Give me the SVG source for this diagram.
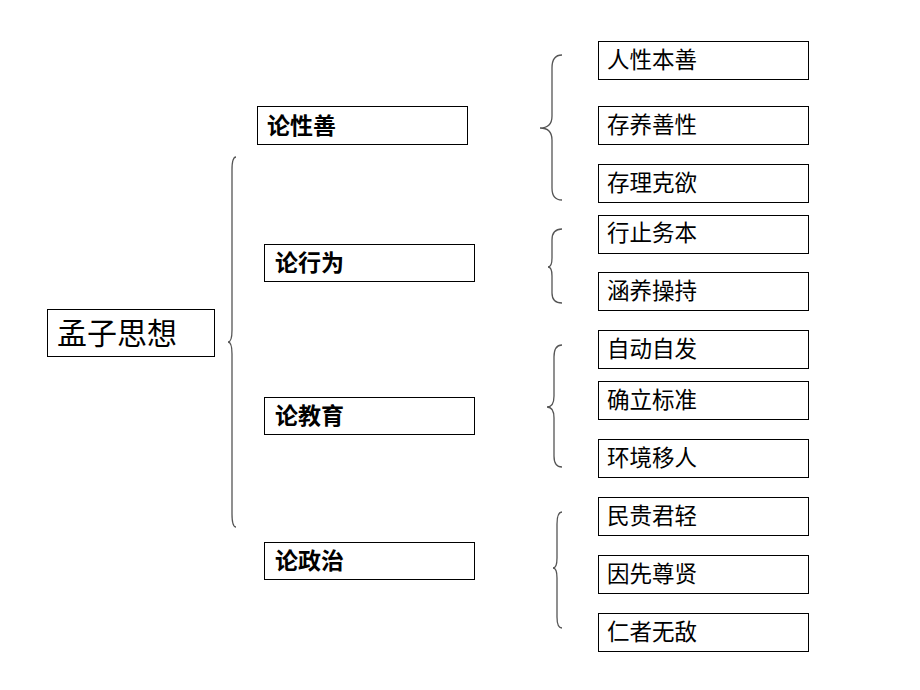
<svg xmlns="http://www.w3.org/2000/svg" width="920" height="690" viewBox="0 0 920 690">
<style>
.box{fill:#fff;stroke:#000;stroke-width:1}
.t{font-family:"Noto Sans CJK SC","Noto Sans",sans-serif;fill:#000}
.t3{font-size:22.5px}
.t2{font-size:23px;font-weight:bold}
.t1{font-size:30px}
.br{fill:none;stroke:#555;stroke-width:1.3}
</style>
<rect width="920" height="690" fill="#fff"/>
<g id="connectors">
<path class="br" d="M236 157 Q232 157 232 170 L232 330 Q232 342 228 342 Q232 342 232 354 L232 514 Q232 527 236 527"/>
<path class="br" d="M562 55 Q552 55 552 68 L552 116 Q552 128 540 128 Q552 128 552 140 L552 188 Q552 200 562 200"/>
<path class="br" d="M562 229 Q552 229 552 240 L552 258 Q552 267 548 267 Q552 267 552 276 L552 293 Q552 303 562 303"/>
<path class="br" d="M562 345 Q554 345 554 357 L554 396 Q554 407 547 407 Q554 407 554 418 L554 456 Q554 467 562 467"/>
<path class="br" d="M562 512 Q557 512 557 524 L557 558 Q557 568 553 568 Q557 568 557 578 L557 617 Q557 628 562 628"/>
</g>
<g id="root"><rect class="box" x="47.5" y="309.5" width="167" height="47"/><text class="t t1" x="57" y="344">孟子思想</text></g>
<g id="n-xingshan"><rect class="box" x="257.5" y="106.5" width="210" height="38"/><text class="t t2" x="267" y="134">论性善</text></g>
<g id="n-xingwei"><rect class="box" x="264.5" y="244.5" width="210" height="37"/><text class="t t2" x="275" y="271">论行为</text></g>
<g id="n-jiaoyu"><rect class="box" x="264.5" y="397.5" width="210" height="37"/><text class="t t2" x="275" y="424">论教育</text></g>
<g id="n-zhengzhi"><rect class="box" x="264.5" y="542.5" width="210" height="37"/><text class="t t2" x="275" y="569">论政治</text></g>
<g id="l1"><rect class="box" x="598.5" y="41.5" width="210" height="38"/><text class="t t3" x="607" y="68">人性本善</text></g>
<g id="l2"><rect class="box" x="598.5" y="106.5" width="210" height="38"/><text class="t t3" x="607" y="133">存养善性</text></g>
<g id="l3"><rect class="box" x="598.5" y="164.5" width="210" height="38"/><text class="t t3" x="607" y="191">存理克欲</text></g>
<g id="l4"><rect class="box" x="598.5" y="215.5" width="210" height="38"/><text class="t t3" x="607" y="241">行止务本</text></g>
<g id="l5"><rect class="box" x="598.5" y="272.5" width="210" height="38"/><text class="t t3" x="607" y="299">涵养操持</text></g>
<g id="l6"><rect class="box" x="598.5" y="330.5" width="210" height="38"/><text class="t t3" x="607" y="357">自动自发</text></g>
<g id="l7"><rect class="box" x="598.5" y="381.5" width="210" height="38"/><text class="t t3" x="607" y="408">确立标准</text></g>
<g id="l8"><rect class="box" x="598.5" y="439.5" width="210" height="38"/><text class="t t3" x="607" y="466">环境移人</text></g>
<g id="l9"><rect class="box" x="598.5" y="497.5" width="210" height="38"/><text class="t t3" x="607" y="524">民贵君轻</text></g>
<g id="l10"><rect class="box" x="598.5" y="555.5" width="210" height="38"/><text class="t t3" x="607" y="582">因先尊贤</text></g>
<g id="l11"><rect class="box" x="598.5" y="613.5" width="210" height="38"/><text class="t t3" x="607" y="640">仁者无敌</text></g>
</svg>
